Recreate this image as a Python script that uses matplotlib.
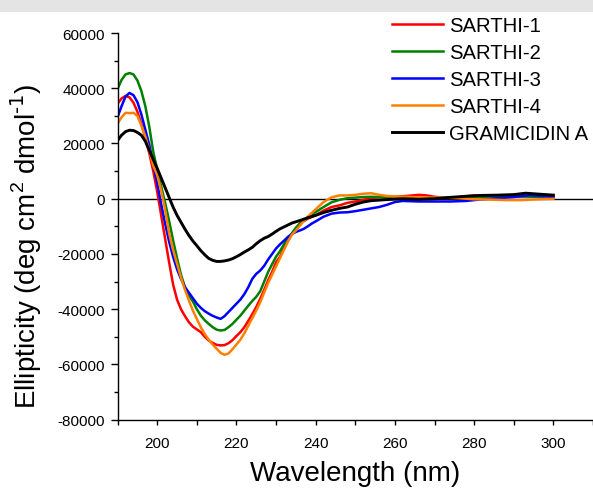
import numpy as np
import matplotlib
matplotlib.use("Agg")
import matplotlib.pyplot as plt
from matplotlib.ticker import MultipleLocator
from matplotlib.patches import Rectangle

plt.rcParams['font.family'] = ['Liberation Sans', 'DejaVu Sans']
plt.rcParams['mathtext.default'] = 'regular'
plt.rcParams['axes.unicode_minus'] = False

# ================= DATA =================

series_names = ["SARTHI-1", "SARTHI-2", "SARTHI-3", "SARTHI-4", "GRAMICIDIN A"]

wl_s1 = [190, 191, 192, 193, 194, 195, 196, 197, 198, 199, 200, 201, 202, 203, 204, 205,
         206, 207, 208, 209, 210, 211, 212, 213, 214, 215, 216, 217, 218, 219, 220, 221,
         222, 223, 224, 225, 226, 227, 228, 229, 230, 231, 232, 233, 234, 235, 236, 238,
         240, 242, 244, 246, 248, 250, 252, 254, 256, 258, 260, 263, 266, 268, 270, 273,
         276, 278, 280, 283, 286, 290, 294, 297, 300]
el_s1 = [34400, 36300, 37200, 36700, 34800, 31500, 27000, 22000, 16500, 10000, 2500, -6000,
         -14500, -23000, -31000, -36500, -40000, -42500, -44700, -46300, -47300, -48300,
         -50000, -51300, -52200, -52900, -53100, -53000, -52300, -51200, -49700, -48300,
         -46500, -44200, -41800, -39200, -36200, -33000, -29500, -26500, -23000, -21000,
         -18000, -15000, -12800, -10900, -9000, -7200, -6000, -4300, -3000, -2400, -1500,
         -1000, -400, 200, 600, 700, 700, 1000, 1400, 1200, 700, 300, 500, 900, 1200, 1200,
         1200, 1000, 900, 700, 500]

wl_s2 = [190, 191, 192, 193, 194, 195, 196, 197, 198, 199, 200, 201, 202, 203, 204, 205,
         206, 207, 208, 209, 210, 211, 212, 213, 214, 215, 216, 217, 218, 219, 220, 221,
         222, 223, 224, 225, 226, 227, 228, 229, 230, 231, 232, 233, 234, 235, 236, 237,
         238, 240, 242, 244, 246, 248, 250, 252, 254, 256, 260, 264, 268, 272, 276, 280,
         284, 288, 292, 296, 300]
el_s2 = [39800, 43000, 45000, 45500, 45000, 42800, 39000, 33500, 26000, 17000, 10500, 4500,
         -1500, -8000, -15000, -21500, -27500, -32000, -35000, -37200, -40000, -42300,
         -44000, -45300, -46500, -47400, -47700, -47500, -46500, -45300, -43800, -42300,
         -40500, -38700, -37000, -35500, -33500, -30000, -26500, -23700, -21000, -19000,
         -16500, -14500, -12500, -10500, -9000, -8000, -6800, -4800, -3000, -1300, -400,
         200, 400, 600, 700, 600, 400, 200, 200, 300, 500, 600, 800, 900, 800, 700, 600]

wl_s3 = [190, 191, 192, 193, 194, 195, 196, 197, 198, 199, 200, 201, 202, 203, 204, 205,
         206, 207, 208, 209, 210, 211, 212, 213, 214, 215, 216, 217, 218, 219, 220, 221,
         222, 223, 224, 225, 226, 227, 228, 229, 230, 231, 232, 233, 234, 235, 236, 237,
         238, 239, 240, 242, 244, 246, 248, 250, 252, 254, 256, 258, 260, 262, 266, 270,
         274, 278, 282, 286, 290, 294, 297, 300]
el_s3 = [29600, 33500, 37000, 38300, 37500, 35000, 30500, 25000, 19500, 12500, 5500, -2000,
         -9000, -15500, -21000, -25500, -29000, -32000, -34000, -36000, -38000, -39500,
         -40700, -41600, -42400, -43000, -43500, -42500, -41000, -39500, -38000, -36500,
         -34500, -32000, -29000, -27200, -26000, -24300, -22000, -20000, -18000, -16500,
         -15200, -13800, -12800, -12000, -11500, -10900, -10000, -9000, -8200, -6500, -5400,
         -5000, -4900, -4500, -4000, -3500, -3000, -2200, -1200, -800, -1000, -1000, -1000,
         -800, -200, 200, 600, 1300, 1000, 600]

wl_s4 = [190, 191, 192, 193, 194, 195, 196, 197, 198, 199, 200, 201, 202, 203, 204, 205,
         206, 207, 208, 209, 210, 211, 212, 213, 214, 215, 216, 217, 218, 219, 220, 221,
         222, 223, 224, 225, 226, 227, 228, 229, 230, 231, 232, 233, 234, 235, 236, 237,
         238, 240, 242, 244, 246, 248, 250, 252, 254, 256, 258, 260, 264, 268, 272, 276,
         280, 284, 288, 292, 296, 300]
el_s4 = [27200, 29500, 31100, 31000, 31100, 30000, 26500, 22500, 17500, 12000, 8500, 3000,
         -4000, -12500, -18500, -23500, -28500, -33000, -36800, -40500, -43500, -46500,
         -49000, -51000, -52800, -54300, -55800, -56500, -56000, -54500, -52800, -51000,
         -48700, -46000, -43200, -40500, -37500, -34000, -30500, -27500, -24500, -21500,
         -18500, -15500, -13000, -11500, -9800, -8000, -6500, -3800, -1200, 500, 1200, 1200,
         1400, 1800, 2000, 1400, 1000, 800, 600, 400, 400, 200, -200, -300, -500, -500,
         -200, 0]

wl_gra = [190, 191, 192, 193, 194, 195, 196, 197, 198, 199, 200, 201, 202, 203, 204, 205,
          206, 207, 208, 209, 210, 211, 212, 213, 214, 215, 216, 217, 218, 219, 220, 221,
          222, 223, 224, 225, 226, 227, 228, 229, 230, 231, 232, 233, 234, 236, 238, 240,
          242, 244, 246, 248, 250, 252, 254, 256, 258, 262, 266, 270, 274, 278, 282, 286,
          290, 293, 296, 300]
el_gra = [21100, 23000, 24300, 24800, 24700, 24000, 23000, 20800, 17500, 14200, 11000, 7500,
          4000, 500, -3000, -6000, -8500, -11000, -13300, -15300, -17000, -18800, -20300,
          -21600, -22300, -22700, -22700, -22500, -22200, -21700, -21000, -20200, -19300,
          -18500, -17600, -16300, -15200, -14300, -13700, -12800, -11800, -10900, -10200,
          -9500, -8800, -7900, -6900, -6000, -5000, -4200, -3500, -3000, -2000, -1200, -700,
          -500, -300, 0, -200, 0, 500, 900, 1200, 1300, 1500, 2000, 1700, 1300]

wavelengths = [wl_s1, wl_s2, wl_s3, wl_s4, wl_gra]
ellipticity = [el_s1, el_s2, el_s3, el_s4, el_gra]
colors = ["#ff0000", "#008000", "#0000ff", "#ff8000", "#000000"]

# ================= PLOT =================

fig = plt.figure(figsize=(5.93, 4.89), dpi=100)

# faint grey band at the top of the page
fig.patches.append(Rectangle((0, 1 - 13 / 489), 1, 13 / 489, transform=fig.transFigure,
                             facecolor="#e4e4e4", edgecolor="none", zorder=0))

ax = fig.add_axes([117.6 / 593, 1 - 420.7 / 489, 1 - 117.6 / 593, (420.7 - 34) / 489])

ax.axhline(0, color="black", lw=1.0, zorder=1)
for wl, el, c, name in zip(wavelengths, ellipticity, colors, series_names):
    lw = 2.1 if c == "#000000" else 1.8
    ax.plot(wl, el, color=c, lw=lw, label=name, zorder=2)

ax.set_xlim(190, 310)
ax.set_ylim(-80000, 60000)
ax.xaxis.set_major_locator(MultipleLocator(20))
ax.xaxis.set_minor_locator(MultipleLocator(10))
ax.yaxis.set_major_locator(MultipleLocator(20000))
ax.yaxis.set_minor_locator(MultipleLocator(10000))

for s in ["top", "right"]:
    ax.spines[s].set_visible(False)
for s in ["left", "bottom"]:
    ax.spines[s].set_linewidth(1.0)

ax.tick_params(axis="y", which="major", length=5, width=1.0, labelsize=11, pad=4)
ax.tick_params(axis="y", which="minor", length=3, width=1.0)
ax.tick_params(axis="x", which="major", length=3.5, width=1.0, labelsize=11, pad=8)
ax.tick_params(axis="x", which="minor", length=3.5, width=1.0)

ax.set_xlabel("Wavelength (nm)", fontsize=20)
ax.xaxis.set_label_coords(0.5, -0.105)
ax.set_ylabel(r"Ellipticity (deg cm$^2$ dmol$^{\text{-1}}$)", fontsize=20)
# label sits a little below the axes centre in the original
ax.yaxis.set_label_coords(-0.155, 0.45)

ax.legend(loc="upper left", bbox_to_anchor=(392 / 593, 1 - 17 / 489),
          bbox_transform=fig.transFigure, frameon=False, fontsize=14.6,
          handlelength=2.5, handletextpad=0.3, labelspacing=0.4, borderpad=0,
          borderaxespad=0)

fig.savefig("out.png", dpi=100)
